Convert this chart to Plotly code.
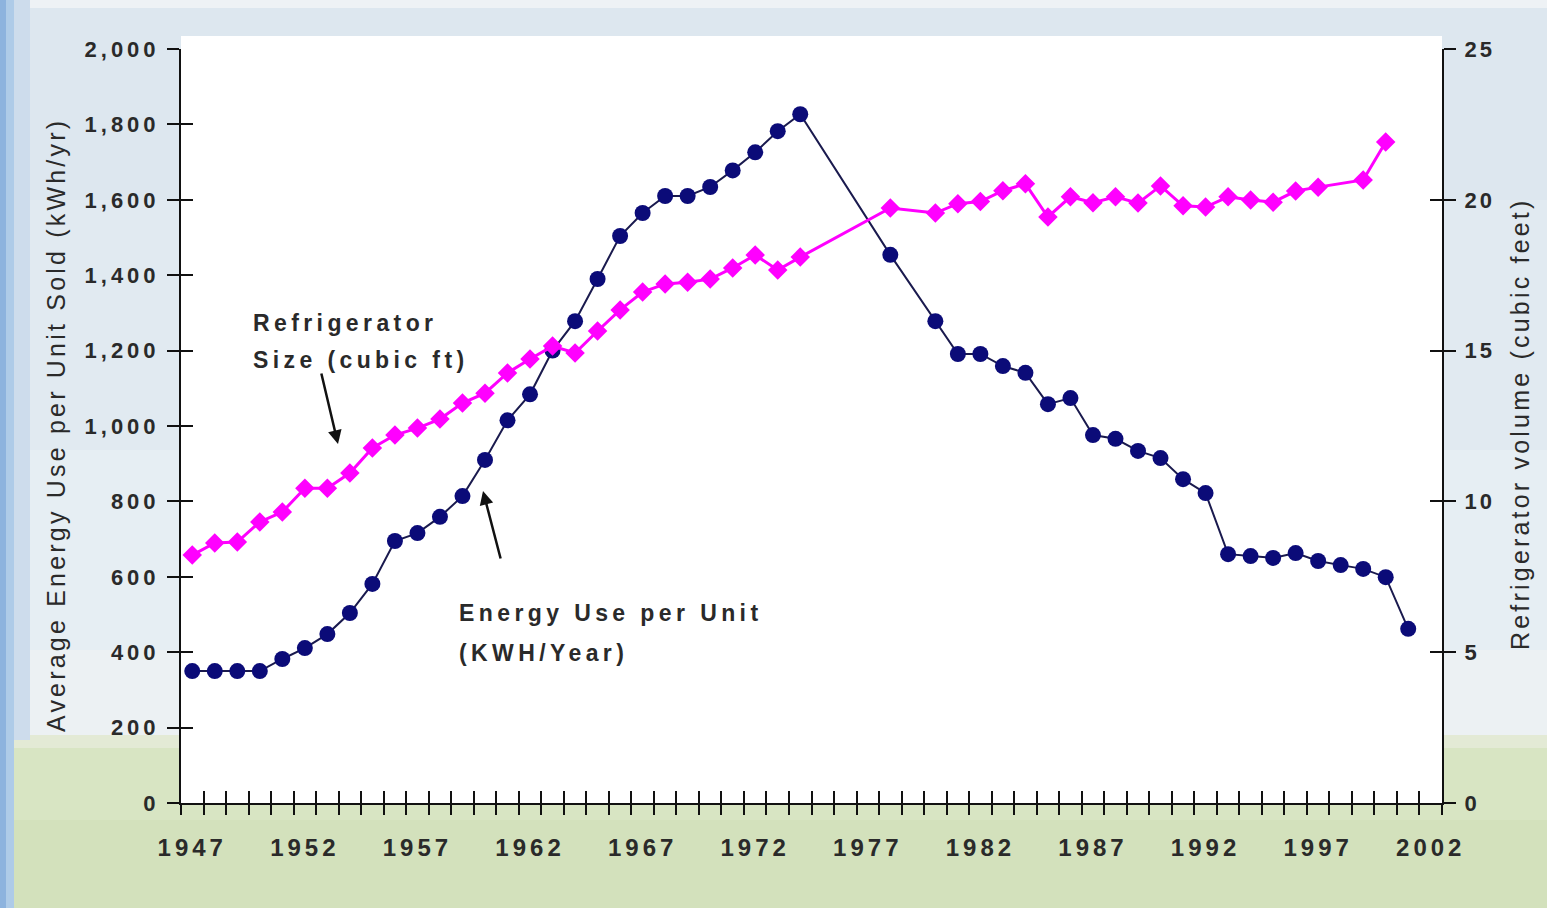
import plotly.graph_objects as go

# ---------------- data ----------------
years_energy = [1947, 1948, 1949, 1950, 1951, 1952, 1953, 1954, 1955, 1956,
                1957, 1958, 1959, 1960, 1961, 1962, 1963, 1964, 1965, 1966,
                1967, 1968, 1969, 1970, 1971, 1972, 1973, 1974, 1978, 1980,
                1981, 1982, 1983, 1984, 1985, 1986, 1987, 1988, 1989, 1990,
                1991, 1992, 1993, 1994, 1995, 1996, 1997, 1998, 1999, 2000, 2001]
energy_kwh = [350, 350, 350, 350, 382, 411, 448, 504, 581, 695,
              716, 759, 814, 910, 1015, 1084, 1200, 1278, 1390, 1504,
              1565, 1610, 1610, 1634, 1678, 1726, 1782, 1827, 1454, 1278,
              1191, 1191, 1159, 1141, 1058, 1074, 976, 966, 934, 915,
              859, 822, 660, 655, 650, 663, 642, 631, 621, 599, 462]

years_size = [1947, 1948, 1949, 1950, 1951, 1952, 1953, 1954, 1955, 1956,
              1957, 1958, 1959, 1960, 1961, 1962, 1963, 1964, 1965, 1966,
              1967, 1968, 1969, 1970, 1971, 1972, 1973, 1974, 1978, 1980,
              1981, 1982, 1983, 1984, 1985, 1986, 1987, 1988, 1989, 1990,
              1991, 1992, 1993, 1994, 1995, 1996, 1997, 1999, 2000]
size_cuft = [8.22, 8.62, 8.65, 9.32, 9.65, 10.44, 10.44, 10.94, 11.77, 12.2,
             12.43, 12.73, 13.26, 13.59, 14.26, 14.72, 15.15, 14.92, 15.65, 16.35,
             16.94, 17.21, 17.27, 17.37, 17.74, 18.17, 17.67, 18.1, 19.73, 19.56,
             19.87, 19.94, 20.3, 20.53, 19.43, 20.1, 19.9, 20.1, 19.89, 20.46,
             19.8, 19.76, 20.1, 19.99, 19.92, 20.29, 20.42, 20.66, 21.92]

x_label_years = [1947, 1952, 1957, 1962, 1967, 1972, 1977, 1982, 1987, 1992, 1997, 2002]
left_ticks = [0, 200, 400, 600, 800, 1000, 1200, 1400, 1600, 1800, 2000]
right_ticks = [0, 5, 10, 15, 20, 25]
category_edges = [1946.5 + i for i in range(57)]

left_title = "Average Energy Use per Unit Sold (kWh/yr)"
right_title = "Refrigerator volume (cubic feet)"
size_label = ["Refrigerator", "Size (cubic ft)"]
energy_label = ["Energy Use per Unit", "(KWH/Year)"]

# ---------------- layout helpers ----------------
W, H = 1547, 908
L, R, T, B = 181, 105, 49, 105
PW, PH = W - L - R, H - T - B
FONT = "Liberation Sans, Arial, sans-serif"
TXT = "#2a2a2a"


def spaced(text, sp):
    return f'<span style="letter-spacing:{sp}px">{text}</span>'


def px_rect(x0, y0, x1, y1, color):
    return dict(type="rect", xref="paper", yref="paper", layer="below",
                x0=(x0 - L) / PW, x1=(x1 - L) / PW,
                y0=(H - B - y0) / PH, y1=(H - B - y1) / PH,
                fillcolor=color, line=dict(width=0))


def px_pt(x, y):
    return (x - L) / PW, (H - B - y) / PH


fig = go.Figure()

fig.add_trace(go.Scatter(
    x=years_energy, y=energy_kwh, mode="lines+markers",
    line=dict(color="#1a1a4e", width=2),
    marker=dict(symbol="circle", size=16, color="#0b0b78"),
    xaxis="x", yaxis="y", showlegend=False, hoverinfo="x+y"))

fig.add_trace(go.Scatter(
    x=years_size, y=size_cuft, mode="lines+markers",
    line=dict(color="#ff00ff", width=3),
    marker=dict(symbol="diamond", size=15, color="#ff00ff"),
    xaxis="x", yaxis="y2", showlegend=False, hoverinfo="x+y"))

# helper traces so overlay tick axes get drawn
for xa, ya in [("x2", "y"), ("x", "y3"), ("x", "y4")]:
    fig.add_trace(go.Scatter(x=[None], y=[None], xaxis=xa, yaxis=ya,
                             showlegend=False, hoverinfo="skip"))

# ---------------- background shapes ----------------
shapes = []
sky_bands = [(0, 8, "#eef2f5"), (8, 200, "#dde7ef"), (200, 450, "#e1eaf1"),
             (450, 650, "#e6eef3"), (650, 735, "#ecf1f3")]
for y0, y1, c in sky_bands:
    shapes.append(px_rect(0, y0, W, y1, c))
shapes.append(px_rect(0, 735, W, 748, "#e3ead5"))
shapes.append(px_rect(0, 748, W, 820, "#d8e5c3"))
shapes.append(px_rect(0, 820, W, H, "#d3e1bc"))
shapes.append(px_rect(0, 0, 6, H, "#8db3de"))
shapes.append(px_rect(6, 0, 14, H, "#aecbe8"))
shapes.append(px_rect(14, 0, 30, 740, "#cddcec"))
shapes.append(px_rect(L, 36, W - R, H - B, "#ffffff"))

# ---------------- annotations ----------------
ann = []
lab_font = dict(family=FONT, size=23, color=TXT, weight="bold")
for text, (x, y) in [(size_label[0], (251, 323)), (size_label[1], (251, 360)),
                     (energy_label[0], (457, 613)), (energy_label[1], (457, 653))]:
    px, py = px_pt(x, y)
    ann.append(dict(text=spaced(text, 4.4), x=px, y=py, xref="paper", yref="paper",
                    xanchor="left", yanchor="middle", showarrow=False, font=lab_font))

for (hx, hy), (tx, ty) in [((338, 444), (321, 372)), ((483, 491), (501, 560))]:
    hpx, hpy = px_pt(hx, hy)
    ann.append(dict(text="", x=hpx, y=hpy, xref="paper", yref="paper",
                    ax=tx - hx, ay=ty - hy, axref="pixel", ayref="pixel",
                    showarrow=True, arrowhead=2, arrowsize=1.1, arrowwidth=2.5,
                    arrowcolor="#111111"))

title_font = dict(family=FONT, size=25, color=TXT)
for text, (x, y) in [(left_title, (56, 425)), (right_title, (1520, 424))]:
    px, py = px_pt(x, y)
    ann.append(dict(text=spaced(text, 3.2), x=px, y=py, xref="paper", yref="paper",
                    xanchor="center", yanchor="middle", textangle=-90,
                    showarrow=False, font=title_font))

# ---------------- axes ----------------
tick_font_y = dict(family=FONT, size=22, color=TXT, weight="bold")
tick_font_x = dict(family=FONT, size=24, color=TXT, weight="bold")
xrange = [1946.5, 2002.5]

fig.update_layout(
    width=W, height=H,
    margin=dict(l=L, r=R, t=T, b=B, pad=0),
    paper_bgcolor="#dfe9f1", plot_bgcolor="#ffffff",
    showlegend=False,
    shapes=shapes, annotations=ann,
    xaxis=dict(range=xrange, showgrid=False, zeroline=False,
               showline=True, linecolor="#111111", linewidth=2,
               tickmode="array", tickvals=x_label_years,
               ticktext=[spaced(str(v), 4) for v in x_label_years],
               ticks="", tickfont=tick_font_x, ticklabelstandoff=22,
               minor=dict(tickmode="array", tickvals=category_edges,
                          ticks="outside", ticklen=10, tickwidth=2,
                          tickcolor="#111111", showgrid=False)),
    xaxis2=dict(range=xrange, overlaying="x", anchor="y", side="bottom",
                showgrid=False, zeroline=False, showline=False,
                tickmode="array", tickvals=category_edges,
                ticks="inside", ticklen=12, tickwidth=2, tickcolor="#111111",
                showticklabels=False),
    yaxis=dict(range=[0, 2000], showgrid=False, zeroline=False,
               showline=True, linecolor="#111111", linewidth=2,
               tickmode="array", tickvals=left_ticks,
               ticktext=[spaced(f"{v:,}", 4) for v in left_ticks],
               ticks="outside", ticklen=12, tickwidth=2, tickcolor="#111111",
               tickfont=tick_font_y, ticklabelstandoff=3),
    yaxis3=dict(range=[0, 2000], overlaying="y", anchor="x", side="left",
                showgrid=False, zeroline=False, showline=False,
                tickmode="array", tickvals=left_ticks,
                ticks="inside", ticklen=12, tickwidth=2, tickcolor="#111111",
                showticklabels=False),
    yaxis2=dict(range=[0, 25], overlaying="y", anchor="x", side="right",
                showgrid=False, zeroline=False,
                showline=True, linecolor="#111111", linewidth=2,
                tickmode="array", tickvals=right_ticks,
                ticktext=[spaced(str(v), 3) for v in right_ticks],
                ticks="outside", ticklen=12, tickwidth=2, tickcolor="#111111",
                tickfont=tick_font_y, ticklabelstandoff=4),
    yaxis4=dict(range=[0, 25], overlaying="y", anchor="x", side="right",
                showgrid=False, zeroline=False, showline=False,
                tickmode="array", tickvals=right_ticks,
                ticks="inside", ticklen=12, tickwidth=2, tickcolor="#111111",
                showticklabels=False),
)

fig.write_html("out.html",
               config={"displayModeBar": False},
               post_script="document.body.style.margin='0';"
                           "document.body.style.overflow='hidden';")
